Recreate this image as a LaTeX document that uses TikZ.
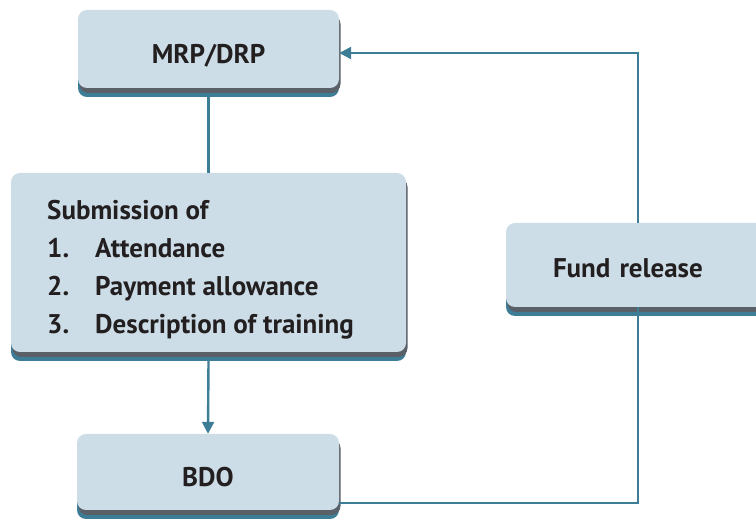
\documentclass[tikz,border=0pt]{standalone}
\usepackage{fontspec}
\setmainfont{PT Sans}
\usetikzlibrary{arrows.meta,shadows}
\definecolor{boxfill}{HTML}{CCDDE7}
\definecolor{linkteal}{HTML}{3E7D96}
\definecolor{shadegray}{HTML}{5A6068}
\definecolor{inkdark}{HTML}{231F20}
\tikzset{
  x=1pt, y=-1pt,
  card/.style={
    general shadow={fill=linkteal, shadow yshift=-9pt},
    general shadow={fill=shadegray, shadow xshift=1.5pt, shadow yshift=-5pt},
    fill=boxfill, rounded corners=9pt, inner sep=0pt,
    font=\bfseries\fontsize{27}{38}\selectfont, text=inkdark},
  label text/.style={font=\bfseries\fontsize{27}{38.3}\selectfont, text=inkdark,
    inner sep=0pt},
  link/.style={draw=linkteal, line width=2.4pt},
  tip/.style={-{Triangle[length=12pt,width=12pt]}}
}
\begin{document}
\begin{tikzpicture}
\useasboundingbox (0,0) rectangle (756,521);
\clip (0,0) rectangle (756,521);

% process boxes
\node[card, minimum width=261pt, minimum height=78pt,
      text height=29pt, text depth=0pt] (mrp) at (208.5,49) {MRP/DRP};
\node[card, minimum width=395pt, minimum height=179pt] (sub) at (208.5,262.5) {};
% the list inside the submission box; its base is the last line
\node[label text, anchor=base west, align=left] (subtext) at (47,334) {%
  Submission of\\
  \makebox[48pt][l]{1.}Attendance\\
  \makebox[48pt][l]{2.}Payment allowance\\
  \makebox[48pt][l]{3.}Description of training};
\node[card, minimum width=280pt, minimum height=84pt, inner xsep=47pt,
      text width=186pt, align=left, text height=25pt, text depth=0pt]
      (fund) at (646,265) {Fund release};
\node[card, minimum width=262pt, minimum height=76pt,
      text height=29pt, text depth=0pt] (bdo) at (208,472) {BDO};

% connectors
\coordinate (top) at (638,53);
\coordinate (low) at (638,503);
\draw[link] (mrp.south) ++(0,9) -- (sub.north);
\draw[link, tip] (sub.south) ++(0,9) -- (bdo.north);
\draw[link] (bdo.east |- low) -- (low) -- (fund.south -| low);
\draw[link, tip] (fund.north -| top) -- (top) -- (top -| mrp.east);
\end{tikzpicture}
\end{document}
